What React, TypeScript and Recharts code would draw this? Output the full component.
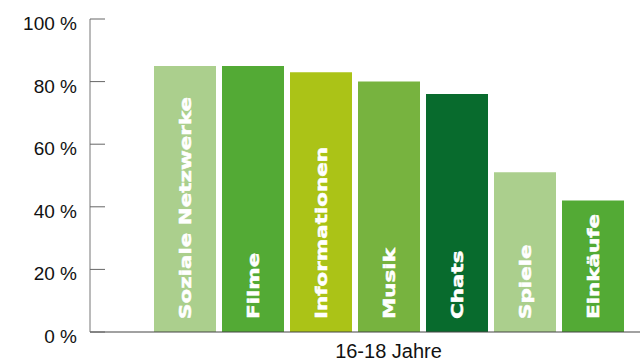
import { Bar, BarChart, XAxis, YAxis } from "recharts";

const categories = ["16-18 Jahre"];
const seriesNames = [
  "Soziale Netzwerke",
  "Filme",
  "Informationen",
  "Musik",
  "Chats",
  "Spiele",
  "Einkäufe",
];
const seriesValues = [85, 85, 83, 80, 76, 51, 42];
const seriesColors = [
  "#abcf8d",
  "#53aa35",
  "#abc317",
  "#77b33f",
  "#086b2d",
  "#abcf8d",
  "#53aa35",
];
const yTicks = [0, 20, 40, 60, 80, 100];

const data = categories.map((name) => {
  const row: Record<string, string | number> = { name };
  seriesNames.forEach((s, i) => {
    row[s] = seriesValues[i];
  });
  return row;
});

// y tick: label left of the axis, short tick line pointing into the plot
function YTick(props: any) {
  const { x, y, payload } = props;
  const axisX = x + 13;
  return (
    <g>
      <line x1={axisX} y1={y} x2={axisX + 15} y2={y} stroke="#666" strokeWidth={1} />
      <text
        x={x}
        y={y}
        dy={11}
        textAnchor="end"
        fontFamily="Liberation Sans, Arial, sans-serif"
        fontSize={19}
        fill="#111"
      >
        {payload.value} %
      </text>
    </g>
  );
}

// vertical white label inside each bar, reading bottom to top
const barLabel = (name: string) => (props: any) => {
  const { x, y, width, height } = props;
  const cx = x + width / 2;
  const by = y + height - 13;
  return (
    <text
      transform={`translate(${cx},${by}) rotate(-90) scale(1.3,1)`}
      textAnchor="start"
      dominantBaseline="central"
      fontFamily="DejaVu Sans, sans-serif"
      fontWeight="bold"
      fontSize={16.5}
      fill="#fff"
      stroke="#fff"
      strokeWidth={0.5}
    >
      {name}
    </text>
  );
};

function App() {
  return (
    <div style={{ position: "absolute", left: 0, top: 0 }}>
      <BarChart
        width={640}
        height={362}
        data={data}
        margin={{ top: 19, right: 0, bottom: 0, left: 0 }}
        barSize={62}
        barGap={6}
      >
        <XAxis
          dataKey="name"
          height={30}
          padding={{ left: 47, right: 0 }}
          axisLine={{ stroke: "#444", strokeWidth: 1.2 }}
          tickLine={false}
          tickSize={0}
          tickMargin={12}
          tick={{
            fontFamily: "Liberation Sans, Arial, sans-serif",
            fontSize: 20,
            fill: "#111",
          }}
        />
        <YAxis
          width={90}
          domain={[0, 100]}
          ticks={yTicks}
          interval={0}
          axisLine={{ stroke: "#777", strokeWidth: 1 }}
          tickLine={false}
          tickSize={0}
          tickMargin={13}
          tick={<YTick />}
        />
        {seriesNames.map((s, i) => (
          <Bar
            key={s}
            dataKey={s}
            fill={seriesColors[i]}
            isAnimationActive={false}
            label={barLabel(s)}
          />
        ))}
      </BarChart>
    </div>
  );
}

export default App;
